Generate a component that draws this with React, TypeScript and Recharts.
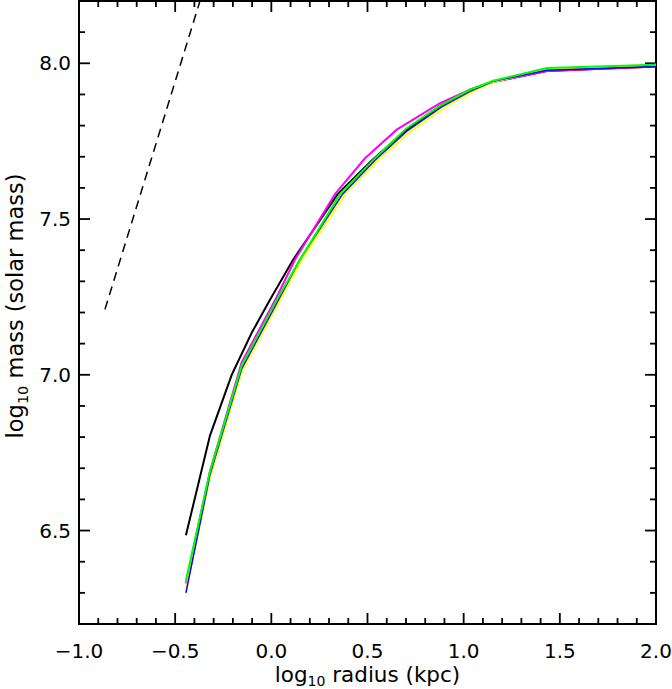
import React from 'react';
import { LineChart, Line, XAxis, YAxis, ReferenceArea } from 'recharts';

// log10 radius (kpc) / log10 mass (solar mass)
const blackRadius = [-0.444, -0.319, -0.206, -0.102, -0.007, 0.114, 0.345, 0.522, 0.7, 0.88, 1.033, 1.153, 1.432, 2.0];
const blackMass = [6.485, 6.805, 7.0, 7.135, 7.241, 7.37, 7.58, 7.688, 7.785, 7.865, 7.915, 7.94, 7.975, 7.99];

const magentaRadius = [-0.444, -0.319, -0.154, 0.028, 0.123, 0.331, 0.487, 0.652, 0.877, 1.033, 1.153, 1.432, 2.0];
const magentaMass = [6.33, 6.69, 7.04, 7.25, 7.37, 7.58, 7.695, 7.787, 7.872, 7.915, 7.94, 7.975, 7.99];

const yellowRadius = [-0.444, -0.319, -0.154, 0.028, 0.158, 0.383, 0.556, 0.72, 0.89, 1.033, 1.153, 1.432, 2.0];
const yellowMass = [6.31, 6.67, 7.01, 7.22, 7.37, 7.58, 7.69, 7.78, 7.855, 7.905, 7.94, 7.98, 7.995];

const blueRadius = [-0.444, -0.319, -0.154, 0.028, 0.148, 0.37, 0.54, 0.71, 0.885, 1.033, 1.153, 1.432, 2.0];
const blueMass = [6.3, 6.68, 7.02, 7.23, 7.37, 7.58, 7.69, 7.785, 7.86, 7.91, 7.942, 7.978, 7.99];

const greenRadius = [-0.444, -0.319, -0.154, 0.028, 0.139, 0.357, 0.53, 0.7, 0.88, 1.033, 1.153, 1.432, 2.0];
const greenMass = [6.34, 6.69, 7.03, 7.24, 7.36, 7.58, 7.69, 7.79, 7.865, 7.915, 7.944, 7.985, 7.995];

const dashedRadius = [-0.865, -0.371];
const dashedMass = [7.21, 8.2];

const xMajorTicks = [-1.0, -0.5, 0.0, 0.5, 1.0, 1.5, 2.0];
const xInnerTicks = [-0.9, -0.8, -0.7, -0.6, -0.5, -0.4, -0.3, -0.2, -0.1, 0.0, 0.1, 0.2, 0.3, 0.4, 0.5, 0.6, 0.7, 0.8, 0.9, 1.0, 1.1, 1.2, 1.3, 1.4, 1.5, 1.6, 1.7, 1.8, 1.9];
const yMajorTicks = [6.5, 7.0, 7.5, 8.0];
const yInnerTicks = [6.3, 6.4, 6.5, 6.6, 6.7, 6.8, 6.9, 7.0, 7.1, 7.2, 7.3, 7.4, 7.5, 7.6, 7.7, 7.8, 7.9, 8.0, 8.1];

const X_DOMAIN = [-1, 2];
const Y_DOMAIN = [6.2, 8.2];

// chart layout (pixels)
const W = 672;
const H = 689;
const M_TOP = 1;
const M_RIGHT = 16;
const Y_AXIS_W = 79;
const X_AXIS_H = 65;
const PLOT_W = W - M_RIGHT - Y_AXIS_W;
const PLOT_H = H - M_TOP - X_AXIS_H;

const MAJOR = 11;
const MINOR = 6;
const TW = 1.8;

const toData = (xs: number[], ys: number[]) => xs.map((x, i) => ({ x, y: ys[i] }));

const isMajor = (v: number) => Math.abs(v * 2 - Math.round(v * 2)) < 1e-6;
const tickLen = (v: number) => (isMajor(v) ? MAJOR : MINOR);
const pxToX = (px: number) => (px * (X_DOMAIN[1] - X_DOMAIN[0])) / PLOT_W;
const pxToY = (px: number) => (px * (Y_DOMAIN[1] - Y_DOMAIN[0])) / PLOT_H;

// inward frame tick marks, one two-point segment each
const tickSegments: { x: number; y: number }[][] = [
  ...xInnerTicks.map((v) => [
    { x: v, y: Y_DOMAIN[0] },
    { x: v, y: Y_DOMAIN[0] + pxToY(tickLen(v)) },
  ]),
  ...xInnerTicks.map((v) => [
    { x: v, y: Y_DOMAIN[1] },
    { x: v, y: Y_DOMAIN[1] - pxToY(tickLen(v)) },
  ]),
  ...yInnerTicks.map((v) => [
    { x: X_DOMAIN[0], y: v },
    { x: X_DOMAIN[0] + pxToX(tickLen(v)), y: v },
  ]),
  ...yInnerTicks.map((v) => [
    { x: X_DOMAIN[1], y: v },
    { x: X_DOMAIN[1] - pxToX(tickLen(v)), y: v },
  ]),
];

const FONT = 'DejaVu Sans';
const fmt = (v: number) => {
  const s = (Math.abs(v) < 1e-9 ? 0 : v).toFixed(1);
  return s.replace('-', '\u2212');
};

const BottomLabel = (props: any) => (
  <text x={Number(props.x)} y={Number(props.y) + 34} textAnchor="middle" fontFamily={FONT} fontSize={20} fill="#000" stroke="none">
    {fmt(props.payload.value)}
  </text>
);

const LeftLabel = (props: any) => (
  <text x={Number(props.x) - 8} y={Number(props.y) + 7} textAnchor="end" fontFamily={FONT} fontSize={20} fill="#000" stroke="none">
    {fmt(props.payload.value)}
  </text>
);

const XLabel = () => (
  <text x={Y_AXIS_W + PLOT_W / 2} y={682} textAnchor="middle" fontFamily={FONT} fontSize={21.5} fill="#000">
    log<tspan fontSize={14} dy={4}>10</tspan>
    <tspan dy={-4}> radius (kpc)</tspan>
  </text>
);

const YLabel = () => (
  <text x={23} y={306} textAnchor="middle" fontFamily={FONT} fontSize={22.5} fill="#000" transform="rotate(-90, 23, 306)">
    log<tspan fontSize={14.5} dy={5}>10</tspan>
    <tspan dy={-5}> mass (solar mass)</tspan>
  </text>
);

export default function App() {
  return (
    <div style={{ position: 'absolute', left: 0, top: 0, width: W, height: H, background: '#fff' }}>
      <LineChart width={W} height={H} margin={{ top: M_TOP, right: M_RIGHT, bottom: 0, left: 0 }}>
        <XAxis
          xAxisId="b"
          type="number"
          dataKey="x"
          domain={X_DOMAIN}
          allowDataOverflow
          ticks={xMajorTicks}
          interval={0}
          tickSize={0}
          tickMargin={0}
          tickLine={false}
          tick={<BottomLabel />}
          height={X_AXIS_H}
          axisLine={false}
          label={<XLabel />}
        />
        <YAxis
          yAxisId="l"
          type="number"
          domain={Y_DOMAIN}
          allowDataOverflow
          ticks={yMajorTicks}
          interval={0}
          tickSize={0}
          tickMargin={0}
          tickLine={false}
          tick={<LeftLabel />}
          width={Y_AXIS_W}
          axisLine={false}
          label={<YLabel />}
        />
        <ReferenceArea
          xAxisId="b"
          yAxisId="l"
          x1={X_DOMAIN[0]}
          x2={X_DOMAIN[1]}
          y1={Y_DOMAIN[0]}
          y2={Y_DOMAIN[1]}
          fill="none"
          fillOpacity={0}
          stroke="#000"
          strokeWidth={2}
          strokeOpacity={1}
        />
        {tickSegments.map((seg, i) => (
          <Line
            key={`tick${i}`}
            xAxisId="b"
            yAxisId="l"
            data={seg}
            dataKey="y"
            stroke="#000"
            strokeWidth={TW}
            dot={false}
            activeDot={false}
            isAnimationActive={false}
            type="linear"
          />
        ))}
        <Line xAxisId="b" yAxisId="l" data={toData(dashedRadius, dashedMass)} dataKey="y" stroke="#000" strokeWidth={1.5} strokeDasharray="9 6" dot={false} isAnimationActive={false} type="linear" />
        <Line xAxisId="b" yAxisId="l" data={toData(blackRadius, blackMass)} dataKey="y" stroke="#000" strokeWidth={2} dot={false} isAnimationActive={false} type="linear" />
        <Line xAxisId="b" yAxisId="l" data={toData(magentaRadius, magentaMass)} dataKey="y" stroke="#ff00ff" strokeWidth={2} dot={false} isAnimationActive={false} type="linear" />
        <Line xAxisId="b" yAxisId="l" data={toData(yellowRadius, yellowMass)} dataKey="y" stroke="#ffff00" strokeWidth={2} dot={false} isAnimationActive={false} type="linear" />
        <Line xAxisId="b" yAxisId="l" data={toData(blueRadius, blueMass)} dataKey="y" stroke="#0000ff" strokeWidth={1.5} dot={false} isAnimationActive={false} type="linear" />
        <Line xAxisId="b" yAxisId="l" data={toData(greenRadius, greenMass)} dataKey="y" stroke="#00ff00" strokeWidth={2} dot={false} isAnimationActive={false} type="linear" />
      </LineChart>
    </div>
  );
}
